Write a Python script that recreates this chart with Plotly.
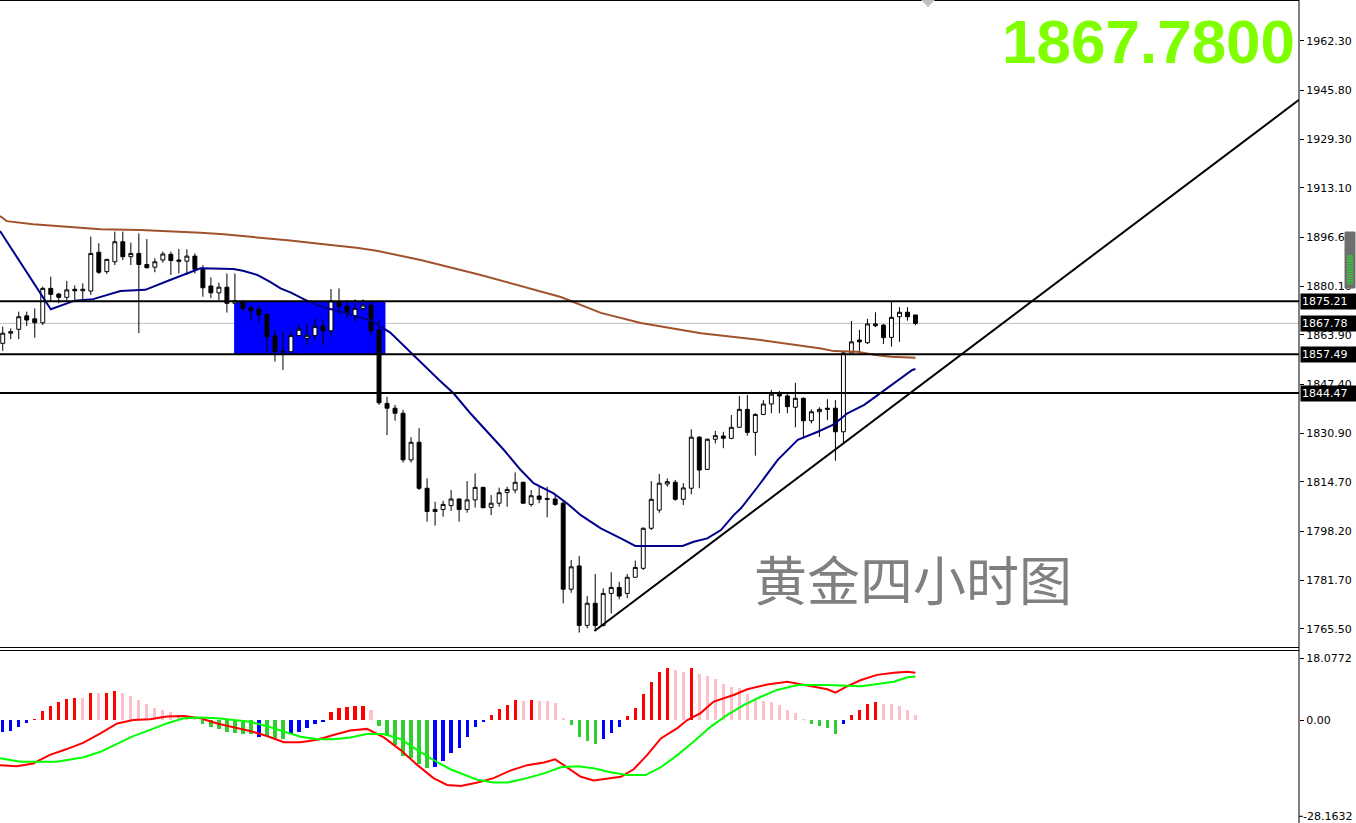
import plotly.graph_objects as go

# ---------------- data ----------------
opens = [1861.1,1864.5,1865.8,1870.3,1869.3,1868.0,1879.5,1877.6,1876.5,1879.2,
         1878.7,1878.6,1891.6,1885.1,1888.4,1895.1,1890.1,1891.2,1887.5,1886.6,
         1889.0,1890.9,1889.0,1888.6,1890.3,1885.9,1880.3,1878.0,1879.9,1874.5,
         1875.0,1873.0,1872.5,1870.8,1863.6,1858.5,1858.3,1863.7,1862.8,1863.7,
         1866.9,1865.3,1875.0,1873.6,1870.3,1872.8,1873.9,1865.6,1841.0,1839.4,
         1837.7,1822.1,1828.0,1812.6,1804.8,1805.5,1806.8,1809.0,1805.5,1808.7,
         1812.9,1806.2,1807.6,1811.2,1812.0,1814.6,1807.2,1810.0,1809.2,1809.0,
         1807.6,1778.8,1786.6,1766.7,1774.1,1766.7,1777.4,1779.4,1777.4,1782.8,
         1785.8,1799.2,1805.3,1814.0,1814.6,1808.9,1812.6,1829.7,1818.9,1829.0,
         1830.1,1829.3,1833.0,1839.0,1831.3,1837.3,1840.8,1844.1,1843.5,1839.7,
         1842.7,1835.2,1838.2,1839.4,1839.4,1831.5,1857.9,1862.2,1861.3,1867.6,
         1867.2,1863.1,1870.0,1871.5,1870.6]
highs = [1866.7,1866.1,1871.7,1871.7,1872.8,1880.1,1883.4,1878.0,1882.0,1880.5,
         1881.2,1896.8,1894.6,1889.3,1898.5,1898.5,1894.8,1897.9,1896.0,1889.6,
         1891.8,1891.8,1892.7,1892.6,1891.2,1887.3,1883.2,1881.4,1884.5,1884.5,
         1875.6,1873.9,1873.6,1870.8,1865.6,1865.0,1865.0,1867.6,1867.6,1869.5,
         1868.9,1879.3,1879.5,1875.6,1875.8,1875.8,1875.0,1868.9,1843.2,1840.5,
         1838.8,1829.7,1832.7,1815.9,1808.1,1808.4,1812.0,1809.2,1815.0,1817.6,
         1813.1,1810.3,1812.8,1813.1,1817.9,1814.8,1812.0,1813.4,1813.1,1810.3,
         1808.4,1788.6,1789.9,1776.5,1783.9,1779.1,1784.5,1781.3,1783.9,1788.4,
         1799.5,1815.0,1817.4,1815.9,1815.4,1814.3,1832.3,1830.1,1829.3,1831.8,
         1831.5,1837.1,1843.5,1843.8,1837.7,1842.1,1845.5,1845.2,1844.1,1847.9,
         1843.0,1839.0,1839.7,1842.4,1842.1,1858.2,1868.6,1865.6,1869.3,1871.5,
         1867.6,1875.0,1873.2,1873.2,1870.6]
lows = [1858.6,1862.5,1862.5,1866.9,1863.0,1867.2,1875.0,1874.5,1875.6,1875.6,
        1875.6,1877.3,1884.3,1884.3,1887.3,1889.0,1887.3,1864.5,1886.2,1884.9,
        1888.1,1884.0,1884.5,1884.0,1884.5,1876.7,1876.2,1875.6,1871.4,1874.5,
        1872.0,1868.7,1868.0,1857.8,1855.0,1852.2,1857.2,1863.1,1860.5,1862.2,
        1860.5,1863.3,1870.9,1869.8,1868.3,1872.0,1863.9,1840.5,1830.4,1835.2,
        1821.2,1821.2,1812.0,1801.4,1800.1,1803.1,1805.0,1801.4,1804.4,1806.1,
        1805.9,1803.6,1806.4,1806.4,1810.9,1807.3,1806.4,1807.6,1802.9,1806.7,
        1774.1,1777.6,1764.3,1765.7,1765.2,1766.3,1770.7,1775.4,1775.8,1782.8,
        1785.2,1798.6,1804.4,1813.1,1808.4,1807.0,1810.6,1812.6,1818.7,1827.6,
        1826.0,1829.0,1833.0,1830.2,1823.5,1837.1,1837.7,1837.7,1837.7,1833.0,
        1829.3,1834.3,1829.8,1835.4,1821.8,1827.6,1857.8,1857.8,1860.9,1866.5,
        1860.9,1860.0,1861.6,1868.7,1867.2]
closes = [1864.5,1865.0,1870.0,1868.9,1868.0,1879.5,1877.5,1876.5,1879.0,1878.7,
          1879.2,1891.2,1884.9,1889.2,1895.1,1890.1,1891.2,1887.5,1886.4,1888.4,
          1891.0,1888.8,1888.6,1890.3,1885.9,1879.7,1878.0,1879.9,1874.5,1875.3,
          1872.8,1872.0,1870.6,1863.3,1858.3,1858.2,1863.7,1865.8,1863.8,1866.7,
          1865.3,1875.3,1873.4,1871.2,1872.8,1873.9,1865.3,1841.2,1839.4,1837.7,
          1822.1,1828.0,1812.6,1804.8,1805.5,1807.2,1809.0,1805.5,1808.7,1812.9,
          1806.1,1807.6,1811.1,1812.2,1814.6,1807.6,1810.1,1808.9,1808.9,1807.2,
          1778.8,1786.3,1766.7,1774.1,1766.7,1777.4,1779.4,1776.5,1782.8,1786.1,
          1799.2,1808.9,1814.3,1814.8,1808.9,1812.7,1829.7,1818.7,1829.0,1830.2,
          1829.3,1833.0,1839.0,1831.3,1837.3,1840.8,1844.1,1843.5,1839.9,1842.7,
          1835.2,1838.2,1839.0,1839.0,1831.5,1857.9,1861.6,1861.6,1867.6,1867.0,
          1863.0,1869.8,1871.5,1870.0,1867.78]
bar_index = list(range(len(closes)))

# moving averages (bar position, price)
ma_fast_x = [-0.34,6.0,9.0,11.3,14.7,17.8,20.9,24.7,28.8,30.0,31.8,33.4,34.7,36.0,37.6,39.2,
             40.9,42.6,44.2,45.9,47.2,48.4,54.5,56.3,58.4,60.5,62.6,64.7,66.3,68.8,70.5,
             72.2,74.7,77.2,79.0,84.9,86.3,88.0,89.7,91.3,92.2,94.3,96.8,99.3,101.8,
             103.8,105.5,107.6,110.1,113.6,114.0]
ma_fast_y = [1898.7,1872.5,1875.4,1875.9,1878.6,1879.0,1882.3,1886.2,1886.0,1885.4,1884.0,
             1881.7,1879.5,1878.1,1875.9,1873.9,1872.6,1871.4,1870.0,1868.9,1866.7,1864.7,
             1848.8,1844.4,1837.7,1831.5,1825.4,1818.7,1814.3,1810.9,1807.5,1803.6,1799.2,
             1795.8,1793.3,1793.3,1794.7,1795.8,1798.6,1803.6,1805.9,1813.1,1822.1,1828.8,
             1831.5,1834.0,1837.7,1840.5,1845.5,1852.2,1852.5]
ma_slow_x = [-0.34,0.5,3.8,8.0,12.2,17.2,20.5,24.7,27.6,31.8,35.9,40.1,44.2,46.7,48.4,
             52.2,59.7,69.7,74.7,79.7,87.2,94.7,102.2,103.8,106.7,109.0,110.9,114.0]
ma_slow_y = [1903.7,1902.0,1901.0,1900.1,1899.3,1899.0,1898.7,1898.1,1897.6,1896.6,1895.5,
             1894.3,1893.1,1892.1,1891.2,1889.0,1884.0,1876.6,1871.3,1867.9,1864.5,1862.2,
             1859.4,1858.5,1858.3,1857.2,1856.6,1856.3]

levels = [1875.21, 1857.49, 1844.47]
current_price = 1867.78
zone_x = [28.9, 47.8]
zone_y = [1857.49, 1875.21]
trend_x = [73.9, 161.9]
trend_y = [1764.8, 1942.6]

price_ticks = [1962.30,1945.80,1929.30,1913.10,1896.60,1880.10,1863.90,1847.40,
               1830.90,1814.70,1798.20,1781.70,1765.50]
price_ticktext = ["%.2f" % v for v in price_ticks]

macd_hist = [-3.4,-3.2,-2.0,-0.8,0.2,2.6,4.1,5.3,6.1,6.5,6.4,8.0,7.9,8.0,8.5,8.0,7.0,5.8,4.6,3.6,
             2.9,2.3,1.5,1.4,0.2,-1.1,-1.9,-2.5,-3.4,-3.7,-4.0,-4.2,-4.9,-4.7,-5.4,-5.7,-4.2,-3.4,-2.4,-1.1,
             -0.3,2.3,3.4,3.8,4.1,4.1,2.9,-1.8,-4.7,-7.3,-10.5,-11.2,-13.0,-13.9,-13.7,-12.0,-9.6,-8.1,-4.9,-2.0,
             -0.3,1.5,3.3,4.4,5.8,5.6,5.8,5.6,5.6,5.1,0.7,-1.5,-5.0,-6.1,-6.9,-5.5,-3.7,-2.0,1.2,3.6,
             7.5,11.1,14.1,15.3,14.6,14.1,15.3,13.5,12.9,11.9,10.6,9.7,9.5,7.5,6.5,5.6,5.3,4.4,2.9,2.1,
             0.2,-1.1,-1.8,-2.4,-4.0,-1.1,1.4,2.9,4.8,5.3,4.8,4.8,4.1,2.9,1.5]
# histogram colour state as runs: (state, number of bars)
macd_state_runs = [("B",4),("R",6),("P",1),("R",1),("P",1),("R",2),("P",10),("G",7),("B",1),
                   ("G",3),("B",5),("R",5),("P",1),("G",7),("B",7),("R",4),("P",1),("R",1),
                   ("P",4),("G",4),("B",3),("R",6),("P",2),("R",1),("P",14),("G",4),("B",1),
                   ("R",4),("P",5)]
macd_line_x = [-0.34,1.75,3.8,5.9,8.0,10.1,12.2,14.3,16.3,18.4,20.5,22.6,24.7,26.8,28.8,30.9,33.0,
               35.1,37.2,39.3,41.3,43.4,45.5,47.6,49.7,51.8,53.8,55.5,57.2,59.3,61.3,63.4,65.5,
               67.6,69.0,70.1,72.2,73.8,75.9,77.2,78.8,80.5,82.2,84.3,85.5,87.2,88.8,91.3,93.0,
               95.5,98.0,99.7,101.7,103.0,104.0,105.5,107.2,109.2,111.3,113.0,114.0]
macd_line_y = [-13.2,-13.5,-12.7,-10.2,-8.5,-6.6,-3.9,-1.0,0.0,0.2,1.0,1.2,0.5,-1.0,-2.1,-3.2,-4.7,
               -6.5,-6.5,-5.8,-4.4,-3.1,-2.6,-5.1,-8.8,-13.2,-17.0,-19.0,-19.3,-18.3,-17.0,-14.8,-13.2,
               -12.4,-11.5,-13.2,-16.6,-17.7,-17.0,-16.6,-14.4,-10.2,-5.4,-2.3,0.0,2.1,5.4,7.3,9.0,
               10.4,11.2,10.4,9.6,9.0,8.0,9.9,11.7,13.2,13.8,14.1,13.8]
signal_x = [-0.34,1.3,2.2,6.75,10.1,12.2,14.3,16.3,18.4,20.5,22.6,24.7,26.8,28.8,30.9,33.0,35.1,
            37.2,39.3,41.3,43.4,45.5,47.6,49.7,51.8,53.8,55.9,57.2,59.3,61.3,63.0,65.5,67.6,69.7,
            71.8,73.8,75.9,78.0,80.3,82.2,84.3,86.3,88.4,90.5,92.6,94.7,96.7,99.3,103.0,107.2,
            109.2,111.3,113.0,114.0]
signal_y = [-11.2,-11.9,-12.2,-12.2,-10.9,-9.3,-7.0,-4.7,-2.9,-1.0,0.5,0.7,0.5,0.0,-0.5,-1.8,-3.4,
            -4.9,-5.6,-5.6,-5.1,-4.1,-4.1,-5.6,-8.8,-11.7,-14.4,-15.6,-17.5,-18.3,-18.3,-17.0,-15.6,
            -13.8,-13.5,-14.1,-15.3,-16.1,-16.1,-13.8,-10.2,-6.3,-2.0,1.5,4.4,6.8,8.8,10.2,10.2,9.9,
            10.5,11.2,12.5,12.7]
macd_ticks = [18.0772, 0.0, -28.1632]
macd_ticktext = ["18.0772", "0.00", "-28.1632"]

# ---------------- layout helpers ----------------
W, H = 1356, 823
PLOT_W = 1299
def px(x):
    return x / PLOT_W
def py(y):
    return 1 - y / H

state_colors = {"R": "#FF0000", "P": "#FFC0CB", "G": "#32CD32", "B": "#0000FF"}
hist_colors = []
for s, n in macd_state_runs:
    hist_colors += [state_colors[s]] * n

fig = go.Figure()
fig.add_trace(go.Scatter(x=ma_slow_x, y=ma_slow_y, mode="lines",
                         line=dict(color="#A0522D", width=2), xaxis="x", yaxis="y"))
fig.add_trace(go.Candlestick(x=bar_index, open=opens, high=highs, low=lows, close=closes,
                             increasing=dict(line=dict(color="black", width=1), fillcolor="white"),
                             decreasing=dict(line=dict(color="black", width=1), fillcolor="black"),
                             whiskerwidth=0, xaxis="x", yaxis="y"))
fig.add_trace(go.Scatter(x=ma_fast_x, y=ma_fast_y, mode="lines",
                         line=dict(color="#00008B", width=2), xaxis="x", yaxis="y"))
fig.add_trace(go.Scatter(x=trend_x, y=trend_y, mode="lines",
                         line=dict(color="black", width=2), xaxis="x", yaxis="y"))

fig.add_trace(go.Bar(x=bar_index, y=macd_hist, marker=dict(color=hist_colors, line=dict(width=0)),
                     width=0.4, xaxis="x2", yaxis="y2"))
fig.add_trace(go.Scatter(x=macd_line_x, y=macd_line_y, mode="lines",
                         line=dict(color="#FF0000", width=2), xaxis="x2", yaxis="y2"))
fig.add_trace(go.Scatter(x=signal_x, y=signal_y, mode="lines",
                         line=dict(color="#00FF00", width=2), xaxis="x2", yaxis="y2"))

shapes = []
shapes.append(dict(type="rect", xref="x", yref="y", x0=zone_x[0], x1=zone_x[1],
                   y0=zone_y[0], y1=zone_y[1], fillcolor="#0000FF", line=dict(width=0), layer="below"))
shapes.append(dict(type="line", xref="paper", yref="y", x0=0, x1=1, y0=current_price, y1=current_price,
                   line=dict(color="#C0C0C0", width=1), layer="below"))
for lv in levels:
    shapes.append(dict(type="line", xref="paper", yref="y", x0=0, x1=1, y0=lv, y1=lv,
                       line=dict(color="black", width=2)))
# frame lines
shapes.append(dict(type="line", xref="paper", yref="paper", x0=1, x1=1, y0=0, y1=1,
                   line=dict(color="black", width=1)))
shapes.append(dict(type="line", xref="paper", yref="paper", x0=0, x1=1, y0=py(0.5), y1=py(0.5),
                   line=dict(color="black", width=1)))
shapes.append(dict(type="line", xref="paper", yref="paper", x0=0, x1=1, y0=py(647.5), y1=py(647.5),
                   line=dict(color="black", width=1)))
shapes.append(dict(type="line", xref="paper", yref="paper", x0=0, x1=1, y0=py(650.5), y1=py(650.5),
                   line=dict(color="black", width=1)))
# small gray marker at top
shapes.append(dict(type="path", xref="paper", yref="paper",
                   path="M %f %f L %f %f L %f %f Z" % (px(921), py(0), px(935), py(0), px(928), py(7)),
                   fillcolor="#C0C0C0", line=dict(width=0)))
# scroll widget on the price scale
shapes.append(dict(type="rect", xref="paper", yref="paper", x0=px(1345), x1=px(1355), y0=py(288), y1=py(232),
                   fillcolor="#6E6E6E", line=dict(color="#6E6E6E", width=1)))
for k in range(12):
    yy = 256 + k * 2.5
    shapes.append(dict(type="line", xref="paper", yref="paper", x0=px(1347), x1=px(1353),
                       y0=py(yy), y1=py(yy), line=dict(color="#33CC33", width=1.5)))

annotations = []
for lv in levels + [current_price]:
    annotations.append(dict(xref="paper", yref="y", x=1, y=lv, xanchor="left", yanchor="middle",
                            text="%.2f" % lv, showarrow=False, bgcolor="black", borderpad=1,
                            width=54, align="left", xshift=1,
                            font=dict(family="DejaVu Sans", size=11, color="white")))
# lowest MACD scale label (kept as text next to its tick)
annotations.append(dict(xref="paper", yref="y2", x=1, y=macd_ticks[2], xanchor="left", yanchor="middle",
                        text=macd_ticktext[2], showarrow=False, xshift=2,
                        font=dict(family="DejaVu Sans", size=11, color="black")))
annotations.append(dict(xref="paper", yref="paper", x=px(1297), y=py(41), xanchor="right", yanchor="middle",
                        text="<b>1867.7800</b>", showarrow=False,
                        font=dict(family="Liberation Sans", size=62, color="#7FFF00")))
annotations.append(dict(xref="paper", yref="paper", x=px(913), y=py(578), xanchor="center", yanchor="middle",
                        text="黄金四小时图", showarrow=False,
                        font=dict(family="Noto Sans CJK SC", size=53, color="#808080")))

axis_font = dict(family="DejaVu Sans", size=11, color="black")
fig.update_layout(
    width=W, height=H, margin=dict(l=0, r=W - PLOT_W, t=0, b=0),
    paper_bgcolor="white", plot_bgcolor="white", showlegend=False, bargap=0,
    xaxis=dict(domain=[0, 1], range=[-0.34, 161.9], anchor="y", showticklabels=False,
               showgrid=False, zeroline=False, rangeslider=dict(visible=False), fixedrange=True),
    xaxis2=dict(domain=[0, 1], range=[-0.34, 161.9], anchor="y2", matches="x", showticklabels=False,
                showgrid=False, zeroline=False),
    yaxis=dict(domain=[py(648), 1], range=[1759.13, 1976.02], side="right", anchor="x",
               tickmode="array", tickvals=price_ticks, ticktext=price_ticktext,
               ticks="outside", ticklen=4, tickcolor="black", tickfont=axis_font,
               showgrid=False, zeroline=False),
    yaxis2=dict(domain=[0, py(650)], range=[-30.12, 20.47], side="right", anchor="x2",
                tickmode="array", tickvals=macd_ticks[:2], ticktext=macd_ticktext[:2],
                ticks="outside", ticklen=4, tickcolor="black", tickfont=axis_font,
                showgrid=False, zeroline=False),
    shapes=shapes, annotations=annotations,
)
# tick mark for the lowest MACD label
fig.add_shape(type="line", xref="paper", yref="y2", x0=1, x1=px(PLOT_W + 4),
              y0=macd_ticks[2], y1=macd_ticks[2], line=dict(color="black", width=1))

fig.write_html("out.html", config={"displayModeBar": False},
               post_script="document.body.style.margin='0';document.body.style.overflow='hidden';")
